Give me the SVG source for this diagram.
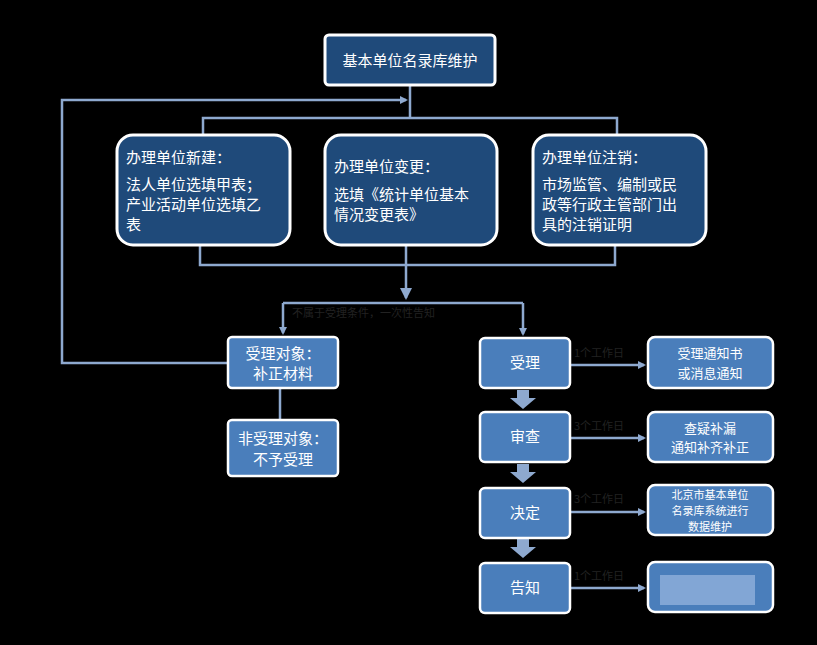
<svg xmlns="http://www.w3.org/2000/svg" width="817" height="645" viewBox="0 0 817 645">
<style>
.dk{fill:#1f4a7a;stroke:#fff;stroke-width:3}
.md{fill:#4a7ebb;stroke:#fff;stroke-width:2.5}
.t{font-family:"Noto Sans CJK SC",sans-serif;font-size:15px;fill:#fff}
.s{font-family:"Noto Sans CJK SC",sans-serif;font-size:13px;fill:#fff}
.x{font-family:"Noto Sans CJK SC",sans-serif;font-size:11px;fill:#fff}
.l{fill:none;stroke:#8ea9cf;stroke-width:2.5}
.d{font-family:"Noto Sans CJK SC",sans-serif;font-size:11px;fill:#222}
</style>
<defs>
<marker id="a" markerWidth="8" markerHeight="8" refX="6" refY="4" orient="auto" markerUnits="userSpaceOnUse" viewBox="0 0 8 8"><path d="M0,0 L8,4 L0,8 z" fill="#8ea9cf"/></marker>
<marker id="b" markerWidth="14" markerHeight="12" refX="10" refY="6" orient="auto" markerUnits="userSpaceOnUse"><path d="M0,0 L12,6 L0,12 z" fill="#8ea9cf"/></marker>
</defs>
<rect width="817" height="645" fill="#000"/>
<g id="connectors">
<path class="l" d="M410,85 V118 M203,135 V118 H617 V135"/>
<path class="l" d="M228,363 H62 V100 H406" marker-end="url(#a)"/>
<path class="l" d="M200,245 V265 H615 V245"/>
<path class="l" d="M406,245 V298" stroke-width="4" marker-end="url(#b)"/>
<path class="l" d="M283,303 H523"/>
<path class="l" d="M283,303 V333" marker-end="url(#a)"/>
<path class="l" d="M523,303 V334" marker-end="url(#a)"/>
<path class="l" d="M280,388 V420"/>
<path class="l" d="M570,365 H644" marker-end="url(#a)"/>
<path class="l" d="M570,438 H644" marker-end="url(#a)"/>
<path class="l" d="M570,512 H644" marker-end="url(#a)"/>
<path class="l" d="M570,588 H644" marker-end="url(#a)"/>
<path d="M517,390 h12 v8 h7 l-13,11 l-13,-11 h7z M517,464 h12 v8 h7 l-13,11 l-13,-11 h7z M517,539 h12 v8 h7 l-13,11 l-13,-11 h7z" fill="#8ea9cf"/>
<text class="d" x="292" y="317">不属于受理条件，一次性告知</text>
<text class="d" x="574" y="357">1个工作日</text>
<text class="d" x="574" y="430">3个工作日</text>
<text class="d" x="574" y="503">3个工作日</text>
<text class="d" x="574" y="580">1个工作日</text>
</g>
<g id="top"><rect class="dk" x="325" y="35" width="170" height="50" rx="4"/><text class="t" x="410" y="66" text-anchor="middle">基本单位名录库维护</text></g>
<g id="n1"><rect class="dk" x="117" y="135" width="173" height="110" rx="16"/>
<text class="t" x="126" y="163">办理单位新建：</text><text class="t" x="126" y="190">法人单位选填甲表；</text><text class="t" x="126" y="210">产业活动单位选填乙</text><text class="t" x="126" y="230">表</text></g>
<g id="n2"><rect class="dk" x="325" y="135" width="172" height="110" rx="16"/>
<text class="t" x="334" y="172">办理单位变更：</text><text class="t" x="334" y="200">选填《统计单位基本</text><text class="t" x="334" y="220">情况变更表》</text></g>
<g id="n3"><rect class="dk" x="533" y="135" width="173" height="110" rx="16"/>
<text class="t" x="542" y="163">办理单位注销：</text><text class="t" x="542" y="190">市场监管、编制或民</text><text class="t" x="542" y="210">政等行政主管部门出</text><text class="t" x="542" y="230">具的注销证明</text></g>
<g id="n4"><rect class="md" x="228" y="337" width="110" height="51" rx="4"/><text class="t" x="283" y="359" text-anchor="middle">受理对象：</text><text class="t" x="283" y="379" text-anchor="middle">补正材料</text></g>
<g id="n5"><rect class="md" x="228" y="420" width="110" height="56" rx="4"/><text class="t" x="283" y="444" text-anchor="middle">非受理对象：</text><text class="t" x="283" y="465" text-anchor="middle">不予受理</text></g>
<g id="r1"><rect class="md" x="480" y="338" width="90" height="50" rx="5"/><text class="t" x="525" y="368" text-anchor="middle">受理</text></g>
<g id="r2"><rect class="md" x="480" y="412" width="90" height="50" rx="5"/><text class="t" x="525" y="442" text-anchor="middle">审查</text></g>
<g id="r3"><rect class="md" x="480" y="488" width="90" height="50" rx="5"/><text class="t" x="525" y="518" text-anchor="middle">决定</text></g>
<g id="r4"><rect class="md" x="480" y="563" width="90" height="50" rx="5"/><text class="t" x="525" y="593" text-anchor="middle">告知</text></g>
<g id="o1"><rect class="md" x="648" y="337" width="125" height="51" rx="7"/><text class="s" x="710" y="358" text-anchor="middle">受理通知书</text><text class="s" x="710" y="378" text-anchor="middle">或消息通知</text></g>
<g id="o2"><rect class="md" x="648" y="412" width="125" height="50" rx="7"/><text class="s" x="710" y="433" text-anchor="middle">查疑补漏</text><text class="s" x="710" y="452" text-anchor="middle">通知补齐补正</text></g>
<g id="o3"><rect class="md" x="648" y="485" width="125" height="50" rx="7"/><text class="x" x="710" y="499" text-anchor="middle">北京市基本单位</text><text class="x" x="710" y="515" text-anchor="middle">名录库系统进行</text><text class="x" x="710" y="531" text-anchor="middle">数据维护</text></g>
<g id="o4"><rect class="md" x="648" y="562" width="125" height="50" rx="7"/><rect x="660" y="575" width="95" height="30" fill="#a9c2e6" opacity="0.6"/></g>
</svg>
